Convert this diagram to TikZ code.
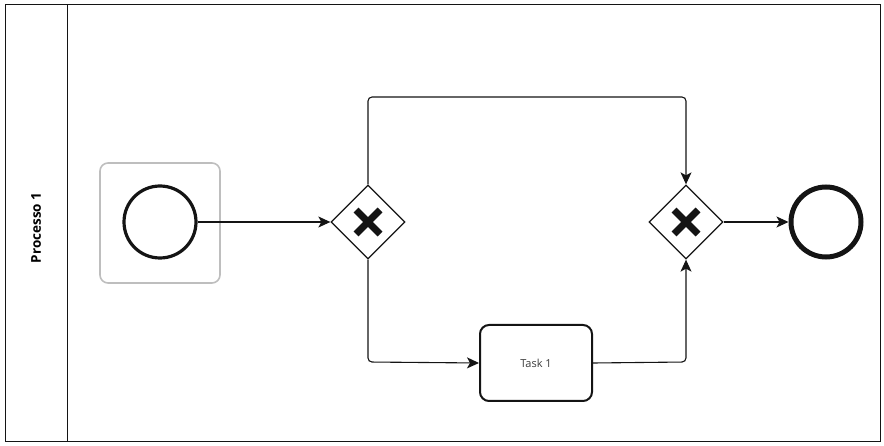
\documentclass[tikz,border=0pt]{standalone}
\usepackage{fontspec}
\setmainfont{Open Sans}
\usetikzlibrary{positioning,arrows.meta,shapes.geometric}
\definecolor{bpmdark}{RGB}{20,20,20}
\definecolor{bpmgrey}{RGB}{190,190,190}
\definecolor{tasktxt}{RGB}{60,60,60}
\tikzset{
  lane/.style={draw=bpmdark,line width=1pt},
  evbox/.style={draw=bpmgrey,line width=1.6pt,rounded corners=8pt,minimum size=120pt,inner sep=0pt},
  startev/.style={circle,draw=bpmdark,line width=3.2pt,minimum size=72pt,inner sep=0pt},
  endev/.style={circle,draw=bpmdark,line width=5pt,minimum size=70pt,inner sep=0pt},
  gw/.style={diamond,draw=bpmdark,line width=1.3pt,fill=white,minimum width=74pt,minimum height=74pt,inner sep=0pt,
    path picture={\draw[line width=7pt,bpmdark]
      ([shift={(-12pt,-12pt)}]path picture bounding box.center)--([shift={(12pt,12pt)}]path picture bounding box.center)
      ([shift={(-12pt,12pt)}]path picture bounding box.center)--([shift={(12pt,-12pt)}]path picture bounding box.center);}},
  task/.style={draw=bpmdark,line width=2pt,rounded corners=9pt,fill=white,minimum width=112pt,minimum height=76pt,
    font=\fontsize{11}{13}\selectfont,text=tasktxt,inner sep=0pt},
  fl/.style={-{Stealth[length=12pt,width=11pt,inset=3pt]},line width=1.1pt,bpmdark,rounded corners=4pt},
}
\begin{document}
\begin{tikzpicture}[x=1pt,y=-1pt]
\useasboundingbox (0,0) rectangle (884,446);
% pool with one lane
\draw[lane] (5,5) rectangle (880,441);
\draw[lane] (67,5) -- (67,441);
\node[rotate=90,font=\bfseries\fontsize{13.5}{15}\selectfont] (lbl) at (36,228) {Processo 1};
% events, gateways, task
\node[evbox] (sbox) at (160,223) {};
\node[startev] (s) at (160,222) {};
\node[gw] (g1) at (368,222) {};
\node[gw] (g2) at (686,222) {};
\node[endev] (e) at (826,222) {};
\node[task] (t) at (536,363) {Task 1};
% flows
\coordinate (up1) at (368,97);
\coordinate (up2) at (686,97);
\coordinate (lo1) at (368,362);
\coordinate (lo2) at (686,362);
\draw[fl] (s) -- (g1);
\draw[fl] (g1.north) -- (up1) -- (up2) -- (g2.north);
\draw[fl] (g1.south) -- (lo1) -- (t.west);
\draw[fl] (t.east) -- (lo2) -- (g2.south);
\draw[fl] (g2) -- (e);
\end{tikzpicture}
\end{document}
